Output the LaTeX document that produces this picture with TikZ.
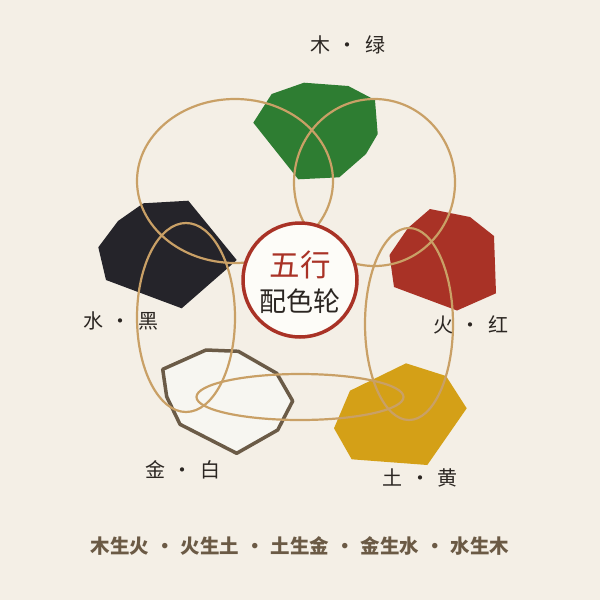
\documentclass[tikz,border=0pt]{standalone}
\usepackage{fontspec}
\newfontfamily\cjk{Noto Sans CJK SC}
\definecolor{bg}{HTML}{F4EFE6}
\definecolor{wood}{HTML}{2E7D32}
\definecolor{fire}{HTML}{A93226}
\definecolor{earth}{HTML}{D4A017}
\definecolor{metal}{HTML}{F7F6F1}
\definecolor{metaledge}{HTML}{6B5B47}
\definecolor{water}{HTML}{25242A}
\definecolor{ring}{HTML}{C9A066}
\definecolor{ink}{HTML}{2B2622}
\definecolor{brownink}{HTML}{6B5A45}
\definecolor{hubfill}{HTML}{FDFCF8}
\begin{document}
\begin{tikzpicture}[x=1pt,y=-1pt,
  ringline/.style={draw=ring,line width=2.2pt},
  lab/.style={font=\cjk\fontsize{20}{20}\selectfont, text=ink, inner sep=0pt, anchor=center}]
\useasboundingbox (0,0) rectangle (600,600);
\fill[bg] (0,0) rectangle (600,600);
% element polygons
\fill[wood] (271.7,94) -- (304,82.7) -- (348.3,86) -- (375,100) -- (377.7,134) -- (366,154) -- (339.3,177.3) -- (298.3,179.3) -- (253.3,122.7) -- cycle;
\fill[water] (98.3,247.3) -- (118,221) -- (143.3,203.3) -- (188.3,200.7) -- (236.7,260) -- (226.7,269) -- (181.7,308.3) -- (106,280) -- cycle;
\fill[fire] (430,209) -- (470,217) -- (494,236) -- (496,293.3) -- (457,310.5) -- (394,287) -- (389.5,255) -- (408,228) -- cycle;
\filldraw[fill=metal, draw=metaledge, line width=3.5pt, line join=round] (162.7,369.3) -- (206,350) -- (238.3,351.3) -- (276.7,373.3) -- (292.7,401) -- (277.7,430) -- (236.7,453.3) -- (180,424.3) -- (166.7,396.7) -- cycle;
\fill[earth] (350,390.7) -- (406,363.3) -- (446,376) -- (466.7,408.3) -- (427.3,465) -- (351.7,459.3) -- (334,428.3) -- cycle;
% generating rings
\draw[ringline] (235,181) ellipse [x radius=98pt, y radius=82pt];
\draw[ringline] (374.5,182.5) ellipse [x radius=80.5pt, y radius=83.5pt];
\draw[ringline] (409,324) ellipse [x radius=44pt, y radius=96pt];
\draw[ringline] (300,397) ellipse [x radius=103.5pt, y radius=23pt];
\draw[ringline] (186,317.5) ellipse [x radius=49pt, y radius=94.5pt];
% hub
\node[circle, draw=fire, line width=3.5pt, fill=hubfill, minimum size=114pt, inner sep=0pt] (hub) at (300,280) {};
\node[font=\cjk\fontsize{30.5}{30.5}\selectfont, text=fire, inner sep=0pt] (title1) at (300,265) {五行};
\node[font=\cjk\fontsize{27}{27}\selectfont, text=ink, inner sep=0pt] (title2) at (300,301) {配色轮};
% labels
\node[lab] (lwood) at (347.5,45) {木\makebox[35pt]{·}绿};
\node[lab] (lwater) at (120.5,321) {水\makebox[35pt]{·}黑};
\node[lab] (lfire) at (470.5,325) {火\makebox[35pt]{·}红};
\node[lab] (lmetal) at (182.5,470) {金\makebox[35pt]{·}白};
\node[lab] (learth) at (420,478) {土\makebox[35pt]{·}黄};
% cycle text
\node[font=\cjk\bfseries\fontsize{19.5}{19.5}\selectfont, text=brownink, inner sep=0pt] (cycle) at (300,546) {木生火\makebox[31.5pt]{·}火生土\makebox[31.5pt]{·}土生金\makebox[31.5pt]{·}金生水\makebox[31.5pt]{·}水生木};
\end{tikzpicture}
\end{document}
